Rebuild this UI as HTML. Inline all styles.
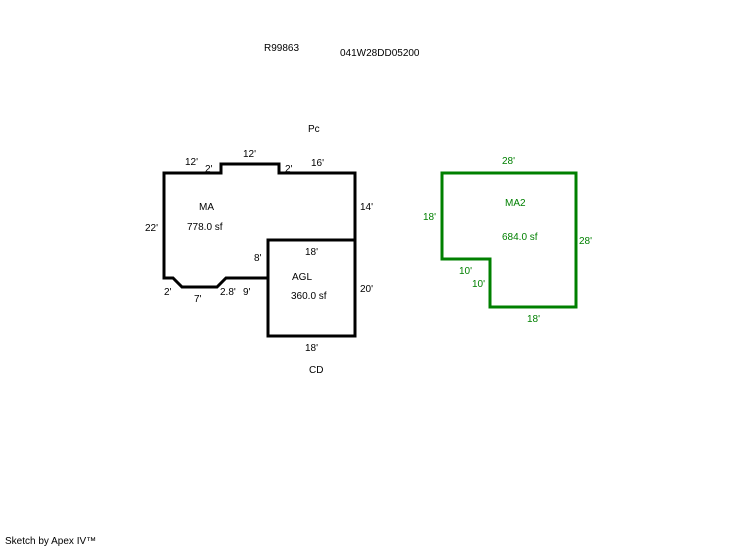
<!DOCTYPE html>
<html><head><style>
body{margin:0;background:#fff;}
svg text{font-family:"Liberation Sans",sans-serif;font-size:10px;}
</style></head><body>
<svg width="746" height="547" xmlns="http://www.w3.org/2000/svg">
<g fill="none" stroke="#000" stroke-width="3" stroke-linejoin="miter">
<polyline points="355,240 355,173 279,173 279,164 221,164 221,173 164,173 164,278 173,278 182,287 217,287 226,278 268,278"/>
<rect x="268" y="240" width="87" height="96"/>
</g>
<polygon points="442,173 576,173 576,307 490,307 490,259 442,259" fill="none" stroke="#008000" stroke-width="3"/>
<g fill="#000">
<text x="264" y="51">R99863</text>
<text x="340" y="56">041W28DD05200</text>
<text x="308" y="132">Pc</text>
<text x="185" y="165">12'</text>
<text x="243" y="157">12'</text>
<text x="205" y="172">2'</text>
<text x="285" y="172">2'</text>
<text x="311" y="166">16'</text>
<text x="199" y="210">MA</text>
<text x="187" y="230">778.0 sf</text>
<text x="145" y="231">22'</text>
<text x="360" y="210">14'</text>
<text x="305" y="255">18'</text>
<text x="254" y="261">8'</text>
<text x="292" y="280">AGL</text>
<text x="291" y="299">360.0 sf</text>
<text x="360" y="292">20'</text>
<text x="164" y="295">2'</text>
<text x="194" y="302">7'</text>
<text x="220" y="295">2.8'</text>
<text x="243" y="295">9'</text>
<text x="305" y="351">18'</text>
<text x="309" y="373">CD</text>
<text x="5" y="544">Sketch by Apex IV™</text>
</g>
<g fill="#008000">
<text x="502" y="164">28'</text>
<text x="505" y="206">MA2</text>
<text x="502" y="240">684.0 sf</text>
<text x="423" y="220">18'</text>
<text x="579" y="244">28'</text>
<text x="459" y="274">10'</text>
<text x="472" y="287">10'</text>
<text x="527" y="322">18'</text>
</g>
</svg>
</body></html>
